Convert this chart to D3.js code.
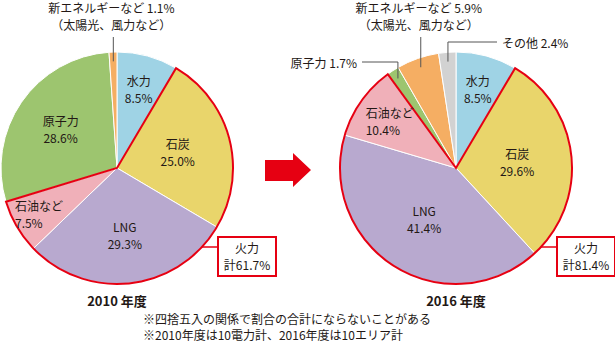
<!DOCTYPE html>
<html><head><meta charset="utf-8">
<script src="https://cdn.jsdelivr.net/npm/d3@7"></script>
<style>
body{margin:0;background:#fff}
svg{display:block}
text{font-family:"Noto Sans CJK JP","Noto Sans",sans-serif;fill:#231815}
</style>
</head><body>
<svg id="c" width="615" height="353"></svg>
<script>
// ---- data ----
const categories = ["水力", "石炭", "LNG", "石油など", "原子力", "新エネルギーなど", "その他"];
const values2010 = [8.5, 25.0, 29.3, 7.5, 28.6, 1.1, 0];
const values2016 = [8.5, 29.6, 41.4, 10.4, 1.7, 5.9, 2.4];
const colors = ["#9fd3e5", "#e9d56b", "#b8a9cf", "#f0b0b9", "#9dc56f", "#f5ae63", "#d2d2d2"];
const thermalIdx = [1, 2, 3];
const yearLabels = ["2010 年度", "2016 年度"];
const thermalLabel = "火力";
const thermalTotals = ["61.7%", "81.4%"];
const subNote = "（太陽光、風力など）";
const notes = ["※四捨五入の関係で割合の合計にならないことがある", "※2010年度は10電力計、2016年度は10エリア計"];

// ---- layout ----
const RED = "#e60012";
const R = 116;
const charts = [
  {values: values2010, cx: 117, cy: 168, year: yearLabels[0], total: thermalTotals[0],
   inside: {0: {r: 0.71}, 1: {r: 0.54}, 2: {r: 0.58}, 3: {r: 0.78, align: "start"}, 4: {r: 0.59}},
   outside: [{i: 5, type: "up"}]},
  {values: values2016, cx: 456, cy: 168, year: yearLabels[1], total: thermalTotals[1],
   inside: {0: {r: 0.71}, 1: {r: 0.53}, 2: {r: 0.52}, 3: {r: 0.70, align: "start"}},
   outside: [{i: 5, type: "up"}, {i: 6, type: "right"}, {i: 4, type: "left"}]}
];

const svg = d3.select("#c");
const fmt = v => v.toFixed(1) + "%";
const pie = d3.pie().sort(null).value(d => d.v);
const arc = d3.arc().innerRadius(0).outerRadius(R);
const FS = 12;

charts.forEach(ch => {
  const data = categories.map((c, i) => ({c, i, v: ch.values[i]})).filter(d => d.v > 0);
  const arcs = pie(data);
  const g = svg.append("g").attr("transform", `translate(${ch.cx},${ch.cy})`);

  g.selectAll("path.slice").data(arcs).join("path")
    .attr("class", "slice")
    .attr("d", arc)
    .attr("fill", d => colors[d.data.i])
    .attr("stroke", "#fff").attr("stroke-width", 1);

  // thermal outline
  const th = arcs.filter(a => thermalIdx.includes(a.data.i));
  const s = d3.min(th, a => a.startAngle), e = d3.max(th, a => a.endAngle);
  g.append("path")
    .attr("d", d3.arc()({innerRadius: 0, outerRadius: R, startAngle: s, endAngle: e}))
    .attr("fill", "none").attr("stroke", RED).attr("stroke-width", 2).attr("stroke-linejoin", "miter");

  const pt = (a, rr) => {
    const m = (a.startAngle + a.endAngle) / 2;
    return [Math.sin(m) * R * rr, -Math.cos(m) * R * rr];
  };

  // inside labels
  arcs.forEach(a => {
    const cfg = ch.inside[a.data.i];
    if (!cfg) return;
    const [x, y] = pt(a, cfg.r);
    const t1 = g.append("text").attr("font-size", FS).attr("dominant-baseline", "central")
      .attr("x", x).attr("y", y - 8.5).attr("text-anchor", "middle").text(a.data.c);
    const t2 = g.append("text").attr("font-size", FS).attr("dominant-baseline", "central")
      .attr("x", x).attr("y", y + 8.5).attr("text-anchor", "middle").text(fmt(a.data.v));
    if (cfg.align === "start") {
      const w = t1.node().getComputedTextLength();
      t1.attr("text-anchor", "start").attr("x", x - w / 2);
      t2.attr("text-anchor", "start").attr("x", x - w / 2);
    }
  });

  // outside labels with leaders
  ch.outside.forEach(o => {
    const a = arcs.find(d => d.data.i === o.i);
    const [x, y] = pt(a, 0.92);
    const lbl = a.data.c + " " + fmt(a.data.v);
    if (o.type === "up") {
      g.append("path").attr("d", d3.line()([[x, y], [x, -131]]))
        .attr("stroke", "#555").attr("stroke-width", 1).attr("fill", "none");
      g.append("text").attr("font-size", FS).attr("text-anchor", "middle").attr("dominant-baseline", "central")
        .attr("x", x - 2).attr("y", -161).text(lbl);
      g.append("text").attr("font-size", FS).attr("text-anchor", "middle").attr("dominant-baseline", "central")
        .attr("x", x - 2).attr("y", -144).text(subNote);
    } else if (o.type === "right") {
      g.append("path").attr("d", d3.line()([[x, y], [x, -126], [41, -126]]))
        .attr("stroke", "#555").attr("stroke-width", 1).attr("fill", "none");
      g.append("text").attr("font-size", FS).attr("text-anchor", "start").attr("dominant-baseline", "central")
        .attr("x", 46).attr("y", -126).text(lbl);
    } else {
      g.append("path").attr("d", d3.line()([[x, y], [x, -106], [-94, -106]]))
        .attr("stroke", "#555").attr("stroke-width", 1).attr("fill", "none");
      g.append("text").attr("font-size", FS).attr("text-anchor", "end").attr("dominant-baseline", "central")
        .attr("x", -99).attr("y", -106).text(lbl);
    }
  });

  // thermal total box
  const bx = 101, by = 69, bw = 58, bh = 39;
  const ly = by + 10;
  g.append("line").attr("x1", Math.sqrt(R * R - ly * ly)).attr("x2", bx).attr("y1", ly).attr("y2", ly)
    .attr("stroke", RED).attr("stroke-width", 1.5);
  g.append("rect").attr("x", bx).attr("y", by).attr("width", bw).attr("height", bh)
    .attr("fill", "#fff").attr("stroke", RED).attr("stroke-width", 2);
  g.append("text").attr("font-size", FS).attr("text-anchor", "middle").attr("dominant-baseline", "central")
    .attr("x", bx + bw / 2).attr("y", by + 10.5).text(thermalLabel);
  g.append("text").attr("font-size", FS).attr("text-anchor", "middle").attr("dominant-baseline", "central")
    .attr("x", bx + bw / 2).attr("y", by + 27.5).text("計" + ch.total);

  // year title
  g.append("text").attr("font-size", 13).attr("font-weight", "bold").attr("text-anchor", "middle")
    .attr("dominant-baseline", "central").attr("x", 0).attr("y", 132).text(ch.year);
});

// arrow
svg.append("path")
  .attr("d", d3.line()([[265, 160], [293, 160], [293, 153], [311, 170], [293, 187], [293, 181], [265, 181]]) + "Z")
  .attr("fill", RED);

// notes
notes.forEach((n, k) => {
  svg.append("text").attr("font-size", 12).attr("x", 143).attr("y", 318 + k * 16)
    .attr("dominant-baseline", "central").text(n);
});
</script>
</body></html>
